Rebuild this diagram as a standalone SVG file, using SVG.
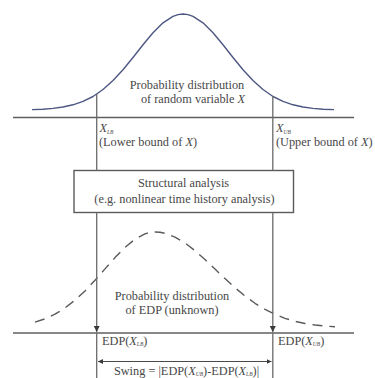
<svg xmlns="http://www.w3.org/2000/svg" width="375" height="378" viewBox="0 0 375 378">
<style>
text{font-family:"Liberation Serif","Times New Roman",serif;fill:#474747;font-size:12.3px}
.it{font-style:italic}
.sub{font-size:5.5px;font-style:italic}
.ln{stroke:#5f5f5f;stroke-width:1.4;fill:none}
.vl{stroke:#6a6a6a;stroke-width:1.3;fill:none}
</style>
<defs>
<marker id="ah" viewBox="0 0 10 10" refX="10" refY="5" markerWidth="6" markerHeight="6" orient="auto" markerUnits="userSpaceOnUse">
<path d="M0,0 L10,5 L0,10 z" fill="#3a3a3a"/>
</marker>
<marker id="ahs" viewBox="0 0 10 10" refX="10" refY="5" markerWidth="5" markerHeight="5" orient="auto-start-reverse" markerUnits="userSpaceOnUse">
<path d="M0,0 L10,5 L0,10 z" fill="#3a3a3a"/>
</marker>
</defs>
<rect width="375" height="378" fill="#ffffff"/>

<g id="top-distribution">
<polyline fill="none" stroke="#4d5782" stroke-width="1.4" stroke-linejoin="round" points="32,109.6 43,109.2 53,108.4 63,107 73,104.8 83,101.4 93,96.5 103,89.5 113,80.6 123,69.8 133,57.5 143,44.8 153,32.7 163,22.8 173,16.3 178,14.6 183,14 188,14.6 193,16.3 203,22.8 213,32.7 223,44.8 233,57.5 243,69.8 253,80.6 263,89.5 273,96.5 283,101.4 293,104.8 303,107 313,108.4 323,109.2 334,109.6"/>
<text x="187" y="89" text-anchor="middle">Probability distribution</text>
<text x="193" y="103" text-anchor="middle">of random variable <tspan class="it">X</tspan></text>
</g>

<g id="x-axis">
<line class="ln" x1="13" y1="117.5" x2="354" y2="117.5"/>
</g>

<g id="lower-bound">
<text x="99.5" y="132"><tspan class="it">X</tspan><tspan class="sub" dy="1.5">LB</tspan></text>
<text x="99" y="145.5">(Lower bound of <tspan class="it">X</tspan>)</text>
</g>

<g id="upper-bound">
<text x="276" y="132"><tspan class="it">X</tspan><tspan class="sub" dy="1.5">UB</tspan></text>
<text x="276" y="145.5">(Upper bound of <tspan class="it">X</tspan>)</text>
</g>

<g id="structural-analysis">
<rect x="74" y="170.5" width="219.5" height="42" fill="#ffffff" stroke="#5a5a5a" stroke-width="1.4"/>
<text x="183.5" y="187" text-anchor="middle">Structural analysis</text>
<text x="184.5" y="202.5" text-anchor="middle">(e.g. nonlinear time history analysis)</text>
</g>

<g id="edp-distribution">
<polyline fill="none" stroke="#5a5a5a" stroke-width="1.4" stroke-dasharray="10 7" stroke-linejoin="round" points="35,322.1 45,318.8 55,314.2 65,308 75,300.2 85,290.9 95,280.2 105,268.9 115,257.6 125,247.4 135,239.2 145,233.8 150,232.4 155,232 160,232.3 165,233.3 175,237.1 185,243 195,250.7 205,259.6 215,269.1 225,278.6 235,287.7 245,296 255,303.3 265,309.4 275,314.4 285,318.3 295,321.3 305,323.5 315,325 325,326.1 335,326.8"/>
<text x="172" y="299.5" text-anchor="middle">Probability distribution</text>
<text x="172" y="314" text-anchor="middle">of EDP (unknown)</text>
</g>

<g id="edp-axis">
<line class="ln" x1="13" y1="333" x2="354" y2="333"/>
</g>

<g id="edp-lb">
<text x="102" y="344.5">EDP(<tspan class="it">X</tspan><tspan class="sub" dy="1.5">LB</tspan><tspan dy="-1.5">)</tspan></text>
</g>

<g id="edp-ub">
<text x="278" y="344.5">EDP(<tspan class="it">X</tspan><tspan class="sub" dy="1.5">UB</tspan><tspan dy="-1.5">)</tspan></text>
</g>

<g id="swing">
<text x="186.5" y="374.5" text-anchor="middle">Swing = |EDP(<tspan class="it">X</tspan><tspan class="sub" dy="1.5">UB</tspan><tspan dy="-1.5">)-EDP(</tspan><tspan class="it">X</tspan><tspan class="sub" dy="1.5">LB</tspan><tspan dy="-1.5">)|</tspan></text>
</g>

<g id="connectors">
<line class="vl" x1="96.7" y1="94" x2="96.7" y2="170.5"/>
<line class="vl" x1="272.8" y1="96" x2="272.8" y2="170.5"/>
<line class="vl" x1="96.7" y1="212.5" x2="96.7" y2="332" marker-end="url(#ah)"/>
<line class="vl" x1="272.8" y1="212.5" x2="272.8" y2="332" marker-end="url(#ah)"/>
<line class="vl" x1="96.7" y1="333" x2="96.7" y2="378"/>
<line class="vl" x1="272.8" y1="333" x2="272.8" y2="378"/>
<line stroke="#4a4a4a" stroke-width="1.1" x1="98" y1="361.5" x2="271.5" y2="361.5" marker-start="url(#ahs)" marker-end="url(#ahs)"/>
</g>
</svg>
